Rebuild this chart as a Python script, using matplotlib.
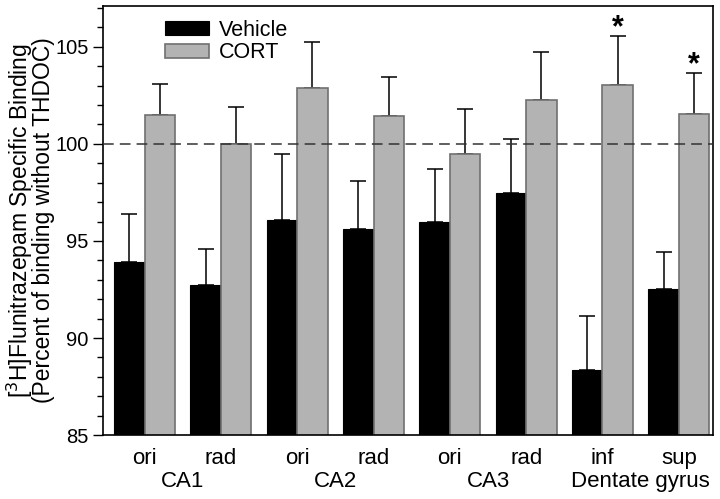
import matplotlib.pyplot as plt
import numpy as np
from matplotlib.ticker import MultipleLocator

plt.rcParams['font.family'] = ['Liberation Sans', 'DejaVu Sans']

# data
layers = ['ori', 'rad', 'ori', 'rad', 'ori', 'rad', 'inf', 'sup']
regions = ['CA1', 'CA2', 'CA3', 'Dentate gyrus']
vehicle = [93.9, 92.75, 96.1, 95.6, 95.95, 97.45, 88.35, 92.5]
vehicle_err = [2.5, 1.85, 3.4, 2.5, 2.75, 2.8, 2.8, 1.95]
cort = [101.5, 100.0, 102.9, 101.45, 99.5, 102.25, 103.05, 101.55]
cort_err = [1.6, 1.9, 2.35, 2.0, 2.3, 2.5, 2.5, 2.1]
signif = [False, False, False, False, False, False, True, True]

x = np.arange(len(layers))
w = 0.4

fig = plt.figure(figsize=(7.2, 4.99), dpi=100)
ax = fig.add_axes([0.1435, 0.128, 0.847, 0.86])

ax.bar(x - w / 2, vehicle, w, color='black', edgecolor='black',
       linewidth=0.8, label='Vehicle', zorder=2)
ax.bar(x + w / 2, cort, w, color='#b3b3b3', edgecolor='#707070',
       linewidth=1.2, label='CORT', zorder=2)

# upward error bars only
ax.errorbar(x - w / 2, vehicle, yerr=[np.zeros(len(x)), vehicle_err], fmt='none',
            ecolor='black', elinewidth=1.1, capsize=6, capthick=1.1, zorder=1)
ax.errorbar(x + w / 2, cort, yerr=[np.zeros(len(x)), cort_err], fmt='none',
            ecolor='black', elinewidth=1.1, capsize=6, capthick=1.1, zorder=1)

for i in range(len(x)):
    if signif[i]:
        ax.text(x[i] + w / 2, cort[i] + cort_err[i] - 0.35, '*', ha='center',
                va='bottom', fontsize=22, fontweight='bold')

ax.axhline(100, color='#333333', linestyle=(0, (7, 4)), linewidth=1.1, zorder=3)

ax.set_ylim(85, 107.1)
ax.set_xlim(-0.54, 7.45)
ax.yaxis.set_major_locator(MultipleLocator(5))
ax.yaxis.set_minor_locator(MultipleLocator(1))
ax.tick_params(axis='y', which='major', length=7, width=1, labelsize=14.5, direction='out')
ax.tick_params(axis='y', which='minor', length=4, width=1, direction='out')
ax.set_xticks(x)
ax.set_xticklabels(layers, fontsize=16)
ax.tick_params(axis='x', length=0, pad=9)
for sp in ax.spines.values():
    sp.set_linewidth(1.2)

for k, reg in enumerate(regions):
    ax.text(2 * k + 0.5, -0.108, reg, transform=ax.get_xaxis_transform(),
            ha='center', va='center', fontsize=16)

ax.set_ylabel('[$^3$H]Flunitrazepam Specific Binding\n(Percent of binding without THDOC)',
              fontsize=16.5, labelpad=0, linespacing=0.88)

ax.legend(loc='upper left', bbox_to_anchor=(0.101, 0.968), frameon=False, fontsize=15.5,
          handlelength=2.05, handleheight=0.65, labelspacing=0.08, handletextpad=0.45,
          borderpad=0, borderaxespad=0)

fig.savefig('out.png', dpi=100)
